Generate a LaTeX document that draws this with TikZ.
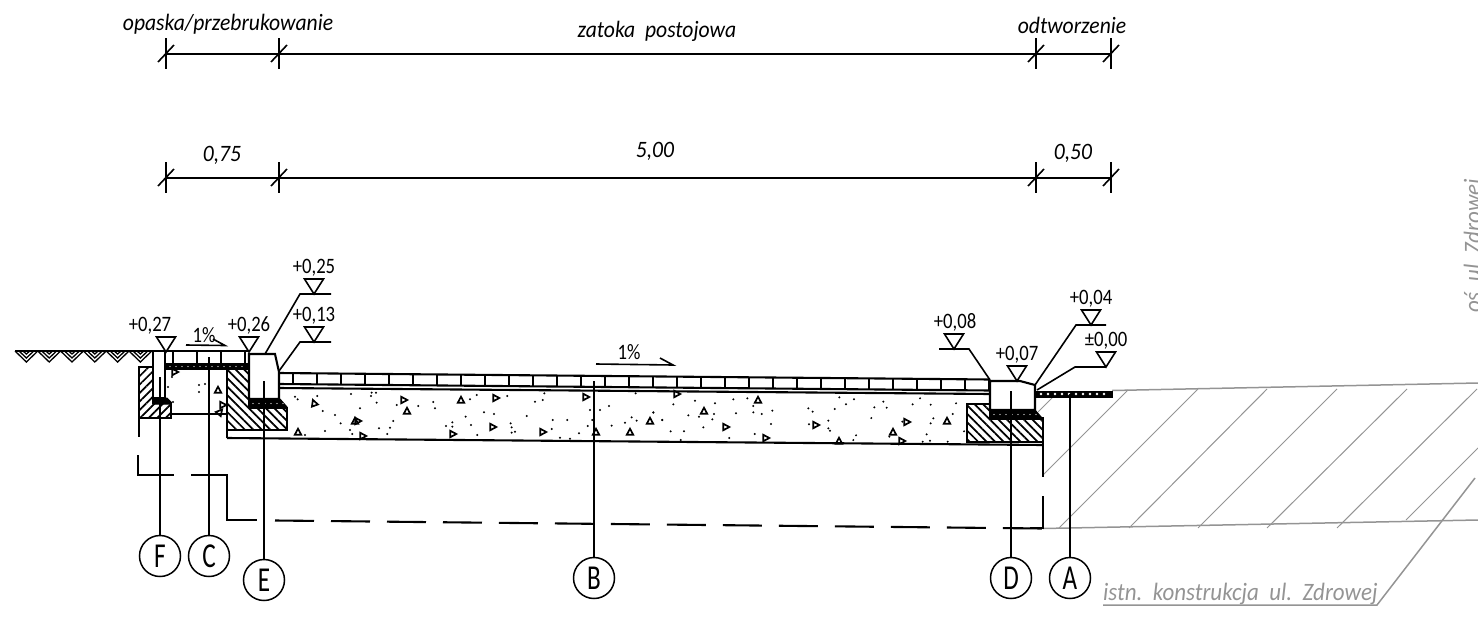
\documentclass[tikz,border=0pt]{standalone}
\usepackage{fontspec}
\setmainfont{Carlito}
\newfontfamily\cadlevel[FakeStretch=0.85]{Carlito}
\newfontfamily\caddim[FakeStretch=0.92]{Carlito}
\newfontfamily\cadref[FakeStretch=0.72]{Carlito}
\usetikzlibrary{patterns.meta}
\tikzset{
        outline/.style={draw=black, line width=2.1pt, line join=miter},
        thinline/.style={draw=black, line width=1.6pt},
        greyline/.style={draw=black!42, line width=1.5pt},
        hatchback/.style={outline, pattern={Lines[angle=-45, distance=6pt, line width=1.7pt]}},
        hatchfwd/.style={outline, pattern={Lines[angle=45, distance=6pt, line width=1.7pt]}},
        bedding/.style={fill=black, draw=black, line width=1pt},
        ref/.style={circle, draw=black, line width=1.5pt, minimum size=41pt, inner sep=0pt, font=\cadref\fontsize{35}{35}\selectfont},
        level/.style={font=\cadlevel\fontsize{22}{22}\selectfont, inner sep=0pt},
        dimtext/.style={font=\caddim\fontsize{23.5}{24}\selectfont\itshape, inner sep=0pt},
        greytext/.style={font=\caddim\fontsize{25}{25}\selectfont\itshape, inner sep=0pt, text=black!42},
        speck/.style={fill=black},
        stone/.style={draw=black, line width=1.7pt, line join=miter}
          }
\begin{document}
\begin{tikzpicture}[x=1pt, y=-1pt]
      \useasboundingbox (0,0) rectangle (1478,643);
      % existing road
      \foreach \t/\b in {1198/1059, 1267/1129, 1337/1198, 1407/1267, 1477/1337}
        \draw[draw=black!42, line width=1pt] (\t,389) -- (\b,528);
      \draw[draw=black!42, line width=1pt] (1128,390) -- (1043,475);
      \draw[draw=black!42, line width=1pt] (1052,398) -- (1038,412);
      \draw[draw=black!42, line width=1pt] (1478,448) -- (1406,520);
      \coordinate (roadtl) at (1112,390.5);
      \coordinate (roadtr) at (1478,383);
      \coordinate (roadbl) at (1043,528.5);
      \coordinate (roadbr) at (1478,520);
      \draw[greyline] (roadtl) -- (roadtr);
      \draw[greyline] (roadbl) -- (roadbr);
      \coordinate (notea) at (1103,605);
      \coordinate (noteb) at (1377,605);
      \coordinate (notec) at (1475,478);
      \draw[greyline] (notea) -- (noteb) -- (notec);
      \node[greytext, anchor=base west] (istn) at (1103,600) {istn.\ \ konstrukcja\ \ ul.\ \ Zdrowej};
      \node[greytext, anchor=base west, rotate=90] (axis) at (1481,313) {oś\ \ ul.\ Zdrowej};
      % dimension rows
      \foreach \n/\y in {a/54, b/178} {
        \coordinate (\n0) at (166,\y);
        \coordinate (\n1) at (279,\y);
        \coordinate (\n2) at (1036,\y);
        \coordinate (\n3) at (1111,\y);
        \draw[thinline] (\n0) -- (\n3);
        \foreach \i in {0,...,3} {
          \draw[thinline] (\n\i) ++(0,-16) -- ++(0,31);
          \draw[thinline] (\n\i) ++(-8,8) -- ++(16,-17);
        }
      }
      \node[dimtext] (opaska) at (228,24) {opaska/przebrukowanie};
      \node[dimtext] (zatoka) at (657,31) {zatoka\ \ postojowa};
      \node[dimtext] (odtw) at (1072,25) {odtworzenie};
      \node[dimtext] (dima) at (222,155) {0,75};
      \node[dimtext] (dimb) at (655,151) {5,00};
      \node[dimtext] (dimc) at (1073,153) {0,50};
      % ground
      \foreach \g in {0,...,5} {
        \foreach \d in {0,4,8}
          \draw[thinline, line width=1.3pt] ({15+22.8*\g+\d},351) -- ({26.4+22.8*\g},{362-\d}) -- ({37.8+22.8*\g-\d},351);
      }
      \draw[outline] (15,351) -- (248,351);
      \draw[thinline, line width=1.2pt] (153,351) -- (165,363);
      % left strip
      \draw[outline] (166,364) -- (249,364);
      \foreach \x in {173,197,221,245}
        \draw[thinline] (\x,351) -- (\x,364);
      \draw[bedding] (166,364) rectangle (249,369);
      \foreach \x in {170,176,...,246}
        \fill[white] (\x,366.5) circle (0.7pt);
      \draw[outline] (171,414) -- (227,414);
      \draw[hatchfwd] (139,367) -- (153,367) -- (153,403) -- (171,403) -- (171,418) -- (139,418) -- cycle;
      \draw[outline, fill=white] (153,351) -- (165,351) -- (165,398) -- (153,398) -- cycle;
      \draw[bedding] (153,398) -- (167,398) -- (171,402) -- (171,404) -- (153,404) -- cycle;
      \draw[outline] (139,367) -- (139,437);
      % concrete base
      \draw[outline] (227,438) -- (1043,445);
      \draw[outline] (279,373) -- (990,379.5);
      \draw[outline] (279,384) -- (990,390.5);
      \draw[outline] (279,388) -- (990,394);
      \foreach \x in {293,317,...,989}
        \draw[thinline] (\x,{373+(\x-279)*0.00915}) -- (\x,{384+(\x-279)*0.00915});
      \foreach \x/\y in {75/170,83/178,142/168,158/213,195/225,212/250,165/273,105/285,243/162,305/158,318/158,303/168,320/188,270/205,240/270,247/282,327/265,360/263,352/282,370/243,380/195,445/198,490/186,495/205,600/178,620/165,712/168,795/185,818/180,823/160,642/217,672/222,587/230,603/255,547/247,547/260,528/258,622/285,722/250,725/262,735/275,725/278,770/228,848/240,845/267,892/240,870/293,900/296,927/280,967/240,960/210,990/210,1017/198,953/258,1025/257,1065/248,1085/232,1100/242,1150/217,1177/240,1097/160}
        \fill[speck] ({270+\x/3},{340+\y/3}) circle (1.1pt);
      \foreach \x/\y in {100/103,165/92,225/100,280/88,322/85,340/108,397/122,365/132,340/127,288/130,222/132,217/148,177/140,145/136,40/128,67/150,92/184,132/184,190/172,268/204,344/192,393/162,122/210,505/115,518/125,584/117,598/82,618/103,642/88,703/112,730/95,740/113,818/103,840/85,872/104,948/100,938/132,880/145,872/160,787/155,694/144,565/152,507/163,565/175,570/182,648/196,640/210,748/200,860/193,870/212,848/215,923/215,972/184}
        \fill[speck] ({640+\x/3},{370+\y/3}) circle (1.1pt);
      \foreach \x/\y in {172/377,168/387,199/385,205/384,199/392,173/402}
        \fill[speck] (\x,\y) circle (1.1pt);
      \foreach \x/\y/\r in {314/403/20, 298/432/0, 355/421/0, 358/421/-90, 404/400/-90, 407/411/0, 363/436/-90, 461/400/0, 496/398/-90, 493/427/-90, 453/434/-90, 543/432/-90, 586/397/-90, 596/432/0, 630/432/0, 650/421/0, 704/411/0, 726/427/-90, 758/400/0, 766/438/-90, 816/425/-90, 839/441/0, 893/432/0, 902/441/-90, 907/422/-90, 947/421/0, 677/394/-90, 175/372/-90, 218/390/0, 223/405/-90, 220/412/-40}
        \draw[stone, rotate around={\r:(\x,\y)}] (\x,\y) ++(-3.2,2.7) -- ++(6.4,0) -- ++(-3.2,-6) -- cycle;
      % kerb E
      \draw[hatchback] (227,369) -- (249,369) -- (249,408) -- (287,408) -- (287,430) -- (227,430) -- cycle;
      \draw[outline] (227,430) -- (227,438);
      \draw[bedding] (249,399) -- (280,399) -- (287,407) -- (287,408) -- (249,408) -- cycle;
      \foreach \x in {253,259,...,283}
        \fill[white] (\x,403.5) circle (0.7pt);
      \draw[outline, fill=white] (249,354) -- (275,354) -- (279,372) -- (279,399) -- (249,399) -- cycle;
      % kerb D
      \draw[hatchback] (967,404) -- (990,404) -- (990,419) -- (1043,419) -- (1043,442) -- (967,442) -- cycle;
      \draw[bedding] (990,410) -- (1035,410) -- (1042,418) -- (1042,419) -- (990,419) -- cycle;
      \foreach \x in {994,1000,...,1036}
        \fill[white] (\x,414.5) circle (0.7pt);
      \draw[outline, fill=white] (990,381) -- (1020,381) -- (1035,385) -- (1035,410) -- (990,410) -- cycle;
      \draw[outline] (1043,417) -- (1043,477);
      \draw[outline] (1043,496) -- (1043,528) -- (1030,528);
      % layer A
      \draw[bedding] (1036,391) rectangle (1112,397);
      \foreach \x in {1041,1048,...,1108}
        \fill[white] (\x,394) circle (1.3pt);
      % dashed outline
      \draw[outline] (138,455) -- (138,475) -- (174,475);
      \draw[outline] (191,475) -- (227,475) -- (227,520) -- (257,520);
      \draw[outline, dash pattern=on 39pt off 17pt] (275,520.5) -- (1043,528.5);
      % slope marks
      \node[level] (slopea) at (204,335) {1\%};
      \coordinate (slopeas) at (186,345);
      \coordinate (slopeae) at (225,345.5);
      \draw[thinline] (slopeas) -- (slopeae) -- (213,339);
      \node[level] (slopeb) at (629,352) {1\%};
      \coordinate (slopebs) at (596,364);
      \coordinate (slopebe) at (673,365);
      \draw[thinline] (slopebs) -- (slopebe) -- (660,358);
      % levels
      \foreach \n/\x/\y/\tx/\t in {la/166/352/150/{+0,27}, lb/249/352/249/{+0,26}, lc/314/294/314/{+0,25}, ld/314/342/314/{+0,13}, le/954/349/955/{+0,08}, lf/1017/381/1017/{+0,07}, lg/1091/325/1091/{+0,04}, lh/1106/367/1106/{±0,00}} {
        \coordinate (\n) at (\x,\y);
        \draw[thinline] (\n) -- ++(-9.5,-15) -- ++(19,0) -- cycle;
        \node[level] (\n t) at (\tx,{\y-26.5}) {\t};
      }
      \coordinate (kerbe) at (265,354);
      \coordinate (kerbf) at (279,371);
      \coordinate (kerbg) at (990,380);
      \coordinate (kerbh) at (1035,385);
      \coordinate (kerbi) at (1037,390);
      \draw[thinline] (kerbe) -- (300,294) -- (331,294);
      \draw[thinline] (kerbf) -- (300,342) -- (331,342);
      \draw[thinline] (939,349) -- (969,349) -- (kerbg);
      \draw[thinline] (kerbh) -- (1076,325) -- (1106,325);
      \draw[thinline] (kerbi) -- (1075,367) -- (1106,367);
      % references
      \foreach \n/\x/\y/\s in {F/160/556/377, C/209/556/357, E/264/580/381, B/594/578/381, D/1011/578/391, A/1070/578/394} {
        \node[ref] (\n) at (\x,\y) {\n};
        \coordinate (t\n) at (\x,\s);
        \draw[thinline] (t\n) -- (\n);
      }
    \end{tikzpicture}
\end{document}
